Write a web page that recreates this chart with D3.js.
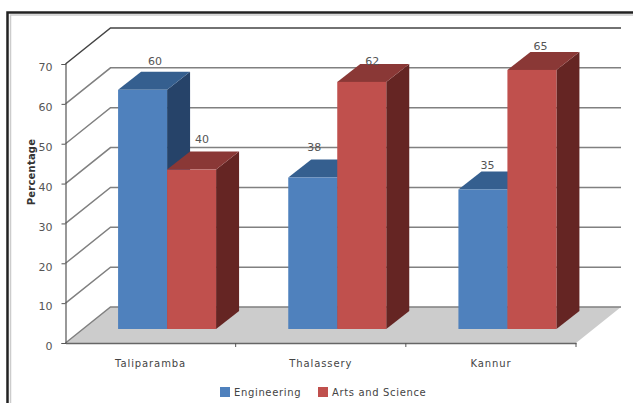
<!DOCTYPE html>
<html>
<head>
<meta charset="utf-8">
<script src="https://cdn.jsdelivr.net/npm/d3@7"></script>
<style>
  body { margin: 0; background: #fff; }
  text { font-family: "DejaVu Sans", sans-serif; fill: #333; }
</style>
</head>
<body>
<div id="chart"></div>
<script>
var categories = ["Taliparamba", "Thalassery", "Kannur"];
var engineering = [60, 38, 35];
var artsScience = [40, 62, 65];
var yTicks = [0, 10, 20, 30, 40, 50, 60, 70];

var width = 633, height = 403;

// oblique projection: wall sits behind the axes, bars stand part way into the floor
var wall = { dx: 45, dy: -36 };
var barInset = { dx: 16.5, dy: -14 };
var barDepth = { dx: 23, dy: -18 };

var seriesList = [
  { name: "Engineering", values: engineering, front: "#4f81bd", top: "#355f8f", side: "#264369" },
  { name: "Arts and Science", values: artsScience, front: "#c0504d", top: "#8a3836", side: "#652523" }
];

// the data labels do not sit at a fixed spot above their bars
var labelLift = { "Engineering": [11, 13, 7], "Arts and Science": [13, 3, 6] };
var labelShift = { "Engineering": [-1, 10, 7], "Arts and Science": [1, 1, 3] };

var svg = d3.select("#chart").append("svg")
    .attr("width", width)
    .attr("height", height);

// outer frame
svg.append("path")
    .attr("d", "M7.5,403V12.5H633")
    .attr("fill", "none")
    .attr("stroke", "#222")
    .attr("stroke-width", 2.5);
svg.append("path")
    .attr("d", "M10.5,403V15H633")
    .attr("fill", "none")
    .attr("stroke", "#ccc")
    .attr("stroke-width", 1.5);

var x = d3.scaleBand()
    .domain(categories)
    .range([65.5, 576]);

var y = d3.scaleLinear()
    .domain([0, 70])
    .range([343, 64]);

var inner = d3.scaleBand()
    .domain(seriesList.map(function(s) { return s.name; }))
    .range([0, 98]);

var groupPad = (x.bandwidth() - inner.range()[1]) / 2;

function poly(points) {
  return points.map(function(p) { return p.join(","); }).join(" ");
}

// floor
svg.append("polygon")
    .attr("points", poly([
      [x.range()[0], y(0)],
      [x.range()[1], y(0)],
      [x.range()[1] + wall.dx, y(0) + wall.dy],
      [x.range()[0] + wall.dx, y(0) + wall.dy]
    ]))
    .attr("fill", "#cccccc");

// gridlines run along the side wall and then across the back wall
svg.append("g").selectAll("path")
    .data(yTicks)
    .enter().append("path")
    .attr("d", function(d) {
      return "M" + x.range()[0] + "," + y(d) +
        "L" + (x.range()[0] + wall.dx) + "," + (y(d) + wall.dy) +
        "H" + (x.range()[1] + wall.dx);
    })
    .attr("fill", "none")
    .attr("stroke", function(d) { return d == 70 ? "#444" : "#808080"; })
    .attr("stroke-width", 1.5);

var yAxis = d3.axisLeft(y)
    .tickValues(yTicks)
    .tickSize(4)
    .tickPadding(9);

var yAxisG = svg.append("g")
    .attr("transform", "translate(" + x.range()[0] + ",0)")
    .call(yAxis);
yAxisG.select(".domain").attr("stroke", "#555").attr("stroke-width", 1.2);
yAxisG.selectAll(".tick line").attr("stroke", "#555");
yAxisG.selectAll(".tick text")
    .attr("dy", "0.62em")
    .style("font-size", "11px")
    .style("fill", "#555");

var xAxis = d3.axisBottom(x)
    .tickSize(0)
    .tickPadding(17);

var xAxisG = svg.append("g")
    .attr("transform", "translate(0," + y(0) + ")")
    .call(xAxis);
xAxisG.select(".domain").attr("stroke", "#666").attr("stroke-width", 1.5);
xAxisG.selectAll(".tick text")
    .style("font-size", "10px")
    .style("letter-spacing", "0.9px")
    .style("fill", "#444");

// tick marks sit on the band edges
xAxisG.selectAll(".edge")
    .data(categories)
    .enter().append("line")
    .attr("class", "edge")
    .attr("x1", function(d) { return x(d) + x.bandwidth(); })
    .attr("x2", function(d) { return x(d) + x.bandwidth(); })
    .attr("y1", 0)
    .attr("y2", 4)
    .attr("stroke", "#555");

// bars, one series after the other so the red columns cover the blue sides
seriesList.forEach(function(s) {
  var g = svg.append("g").selectAll("g")
      .data(categories)
      .enter().append("g");

  function left(d) { return x(d) + groupPad + inner(s.name) + barInset.dx; }
  function right(d) { return left(d) + inner.bandwidth(); }
  function top(d, i) { return y(s.values[i]) + barInset.dy; }
  var base = y(0) + barInset.dy;

  g.append("polygon")
      .attr("fill", s.side)
      .attr("points", function(d, i) {
        return poly([
          [right(d), top(d, i)],
          [right(d) + barDepth.dx, top(d, i) + barDepth.dy],
          [right(d) + barDepth.dx, base + barDepth.dy],
          [right(d), base]
        ]);
      });

  g.append("polygon")
      .attr("fill", s.top)
      .attr("points", function(d, i) {
        return poly([
          [left(d), top(d, i)],
          [left(d) + barDepth.dx, top(d, i) + barDepth.dy],
          [right(d) + barDepth.dx, top(d, i) + barDepth.dy],
          [right(d), top(d, i)]
        ]);
      });

  g.append("rect")
      .attr("x", left)
      .attr("y", top)
      .attr("width", inner.bandwidth())
      .attr("height", function(d, i) { return base - top(d, i); })
      .attr("fill", s.front);
});

// value labels go on top of everything
seriesList.forEach(function(s) {
  svg.append("g").selectAll("text")
      .data(categories)
      .enter().append("text")
      .attr("text-anchor", "middle")
      .attr("x", function(d, i) {
        return x(d) + groupPad + inner(s.name) + barInset.dx + inner.bandwidth() / 2 + barDepth.dx / 2 - labelShift[s.name][i];
      })
      .attr("y", function(d, i) {
        return y(s.values[i]) + barInset.dy + barDepth.dy - labelLift[s.name][i] + 4;
      })
      .style("font-size", "11px")
      .style("fill", "#555")
      .text(function(d, i) { return s.values[i]; });
});

// axis title
svg.append("text")
    .attr("transform", "translate(35,172) rotate(-90)")
    .attr("text-anchor", "middle")
    .style("font-size", "10px")
    .style("font-weight", "bold")
    .style("letter-spacing", "0.2px")
    .text("Percentage");

// legend
var legendX = d3.scaleOrdinal()
    .domain(seriesList.map(function(s) { return s.name; }))
    .range([220, 318]);

var legend = svg.append("g").selectAll("g")
    .data(seriesList)
    .enter().append("g")
    .attr("transform", function(s) { return "translate(" + legendX(s.name) + ",387)"; });

legend.append("rect")
    .attr("width", 10)
    .attr("height", 10)
    .attr("fill", function(s) { return s.front; });

legend.append("text")
    .attr("x", 14)
    .attr("y", 9)
    .style("font-size", "10px")
    .style("letter-spacing", "0.65px")
    .style("fill", "#444")
    .text(function(s) { return s.name; });
</script>
</body>
</html>
